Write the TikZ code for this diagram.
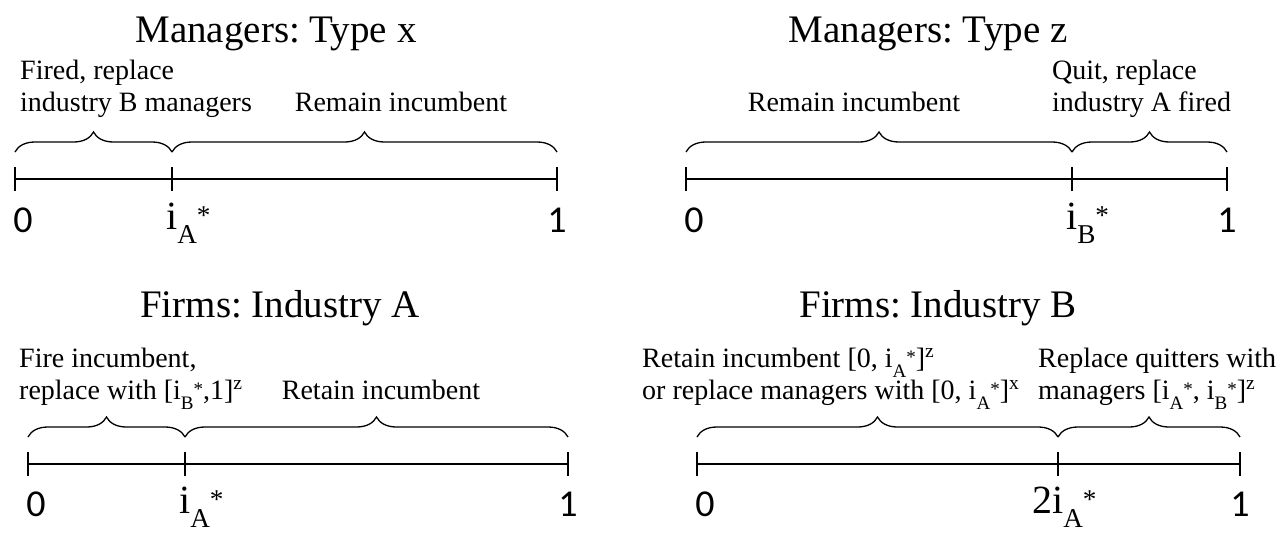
\documentclass[tikz,border=0pt]{standalone}
\usepackage{fontspec}
\setmainfont{Liberation Serif}
\newfontfamily\numfont{Carlito}
\usetikzlibrary{decorations.pathreplacing}
\frenchspacing

\newcommand{\istar}[1]{i\raisebox{-0.36em}{\scalebox{0.68}{#1}}\raisebox{0.12em}{\scalebox{0.68}{*}}}

\tikzset{
  axis/.style={line width=2.8pt},
  tick/.style={line width=2.4pt},
  bracket/.style={decorate, decoration={brace, amplitude=20pt}, line width=1.3pt},
  title/.style={font=\fontsize{39}{44}\selectfont, inner sep=0pt, anchor=base},
  lab/.style={font=\fontsize{28}{32}\selectfont, align=left, inner sep=0pt},
  num/.style={font=\fontsize{38}{42}\selectfont\numfont, inner sep=0pt, anchor=base},
  sym/.style={font=\fontsize{40}{44}\selectfont, inner sep=0pt, anchor=base west},
}

\begin{document}
\begin{tikzpicture}[x=1pt,y=-1pt]
\useasboundingbox (0,0) rectangle (1280,533);

% managers: type x
\node[title] (tx) at (276,42) {Managers: Type x};
\coordinate (x0) at (15,179);
\coordinate (xa) at (172,179);
\coordinate (x1) at (557,179);
\draw[axis] (x0) -- (x1);
\foreach \p in {x0,xa,x1} \draw[tick] ([yshift=-12pt]\p) -- ([yshift=12pt]\p);
\draw[bracket] ([yshift=27pt]x0) -- ([yshift=27pt]xa);
\draw[bracket] ([yshift=27pt]xa) -- ([yshift=27pt]x1);
\node[lab, anchor=base west] (fx) at (20,111) {Fired, replace\\industry B managers};
\node[lab, anchor=base] (rx) at (401,111) {Remain incumbent};
\node[num] (nx0) at ([xshift=8pt,yshift=-53pt]x0) {0};
\node[sym] (nxa) at ([xshift=-6pt,yshift=-50pt]xa) {\istar{A}};
\node[num] (nx1) at ([yshift=-53pt]x1) {1};

% managers: type z
\node[title] (tz) at (928,42) {Managers: Type z};
\coordinate (z0) at (686,179);
\coordinate (zb) at (1072,179);
\coordinate (z1) at (1227,179);
\draw[axis] (z0) -- (z1);
\foreach \p in {z0,zb,z1} \draw[tick] ([yshift=-12pt]\p) -- ([yshift=12pt]\p);
\draw[bracket] ([yshift=27pt]z0) -- ([yshift=27pt]zb);
\draw[bracket] ([yshift=27pt]zb) -- ([yshift=27pt]z1);
\node[lab, anchor=base] (rz) at (854,111) {Remain incumbent};
\node[lab, anchor=base west] (qz) at (1052,111) {Quit, replace\\industry A fired};
\node[num] (nz0) at ([xshift=8pt,yshift=-53pt]z0) {0};
\node[sym] (nzb) at ([xshift=-6pt,yshift=-50pt]zb) {\istar{B}};
\node[num] (nz1) at ([yshift=-53pt]z1) {1};

% firms: industry A
\node[title] (ta) at (280,317) {Firms: Industry A};
\coordinate (a0) at (28,464);
\coordinate (aa) at (185,464);
\coordinate (a1) at (568,464);
\draw[axis] (a0) -- (a1);
\foreach \p in {a0,aa,a1} \draw[tick] ([yshift=-12pt]\p) -- ([yshift=12pt]\p);
\draw[bracket] ([yshift=27pt]a0) -- ([yshift=27pt]aa);
\draw[bracket] ([yshift=27pt]aa) -- ([yshift=27pt]a1);
\node[lab, anchor=base west] (fa) at (19,399) {Fire incumbent,\\replace with [\istar{B},1]\textsuperscript{z}};
\node[lab, anchor=base] (ra) at (381,399) {Retain incumbent};
\node[num] (na0) at ([xshift=8pt,yshift=-52pt]a0) {0};
\node[sym] (naa) at ([xshift=-6pt,yshift=-49pt]aa) {\istar{A}};
\node[num] (na1) at ([yshift=-52pt]a1) {1};

% firms: industry B
\node[title] (tb) at (938,317) {Firms: Industry B};
\coordinate (b0) at (697,464);
\coordinate (bb) at (1058,464);
\coordinate (b1) at (1240,464);
\draw[axis] (b0) -- (b1);
\foreach \p in {b0,bb,b1} \draw[tick] ([yshift=-12pt]\p) -- ([yshift=12pt]\p);
\draw[bracket] ([yshift=27pt]b0) -- ([yshift=27pt]bb);
\draw[bracket] ([yshift=27pt]bb) -- ([yshift=27pt]b1);
\node[lab, anchor=base west] (rb) at (642,399) {Retain incumbent [0, \istar{A}]\textsuperscript{z}\\or replace managers with [0, \istar{A}]\textsuperscript{x}};
\node[lab, anchor=base west] (qb) at (1038,399) {Replace quitters with\\managers [\istar{A}, \istar{B}]\textsuperscript{z}};
\node[num] (nb0) at ([xshift=8pt,yshift=-52pt]b0) {0};
\node[sym] (nbb) at ([xshift=-26pt,yshift=-49pt]bb) {2\istar{A}};
\node[num] (nb1) at ([yshift=-52pt]b1) {1};
\end{tikzpicture}
\end{document}
